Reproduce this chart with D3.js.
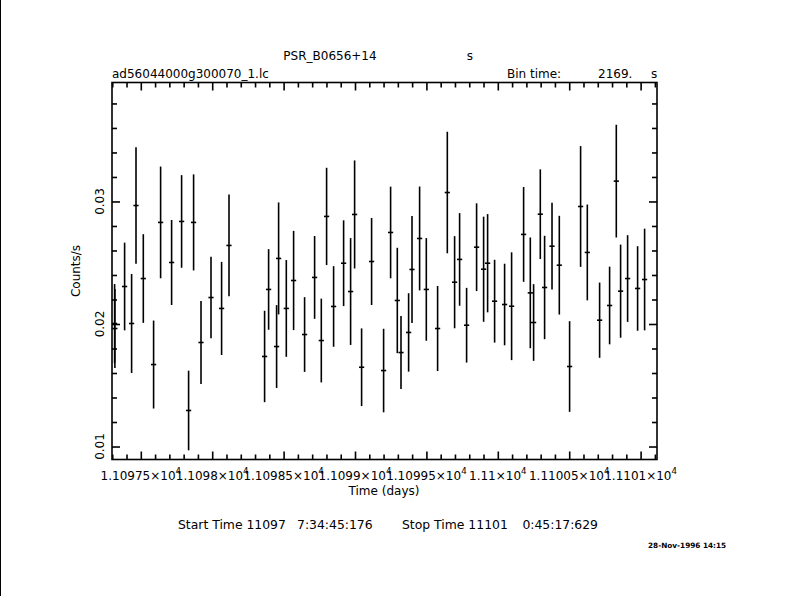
<!DOCTYPE html>
<html>
<head>
<meta charset="utf-8">
<script src="https://cdn.jsdelivr.net/npm/d3@7"></script>
<style>
  html, body { margin: 0; padding: 0; background: #fff; }
  svg { display: block; }
  text { font-family: "DejaVu Sans", Arial, sans-serif; fill: #000; }
</style>
</head>
<body>
<div id="chart"></div>
<script>
// ---- data ----
const binTime = 2169; // seconds
const time = [
  11097.3165, 11097.3185, 11097.3866, 11097.4356, 11097.4664, 11097.5175, 11097.5896, 11097.6387,
  11097.7157, 11097.7857, 11097.8347, 11097.8697, 11097.9216, 11097.9916, 11098.0658, 11098.1176,
  11098.3669, 11098.3950, 11098.4510, 11098.4650, 11098.5189, 11098.5700, 11098.6470, 11098.7171,
  11098.7640, 11098.8011, 11098.8501, 11098.9202, 11098.9692, 11098.9972, 11099.0462, 11099.1162,
  11099.2003, 11099.2493, 11099.2962, 11099.3221, 11099.3754, 11099.3992, 11099.4524, 11099.4993,
  11099.5784, 11099.6464, 11099.6975, 11099.7325, 11099.7815, 11099.8515, 11099.9006, 11099.9286,
  11099.9776, 11100.0476, 11100.0966, 11100.1807, 11100.2276, 11100.2507, 11100.2976, 11100.3277,
  11100.3796, 11100.4307, 11100.5028, 11100.5798, 11100.6268, 11100.7129, 11100.7829, 11100.8298,
  11100.8599, 11100.9090, 11100.9790, 11101.0280
];
const rate = [
  0.02004, 0.01963, 0.02306, 0.02004, 0.02967, 0.02371, 0.01669, 0.02829,
  0.02502, 0.02837, 0.01294, 0.02829, 0.01849, 0.02216, 0.02127, 0.02641,
  0.01735, 0.02282, 0.01816, 0.02535, 0.02127, 0.02355, 0.01914, 0.02380,
  0.01865, 0.02878, 0.02143, 0.02496, 0.02265, 0.02894, 0.01647, 0.02510,
  0.01620, 0.02747, 0.02192, 0.01767, 0.01931, 0.02445, 0.02698, 0.02282,
  0.01963, 0.03073, 0.02341, 0.02527, 0.01990, 0.02627, 0.02447, 0.02496,
  0.02186, 0.02159, 0.02145, 0.02731, 0.02254, 0.02012, 0.02896, 0.02298,
  0.02635, 0.02480, 0.01653, 0.02959, 0.02584, 0.02031, 0.02151, 0.03166,
  0.02268, 0.02371, 0.02290, 0.02363
];
const rateErr = [
  0.00322, 0.00322, 0.00358, 0.00404, 0.00476, 0.00362, 0.00359, 0.00456,
  0.00347, 0.00378, 0.00325, 0.00392, 0.00339, 0.00333, 0.00380, 0.00415,
  0.00373, 0.00329, 0.00338, 0.00457, 0.00395, 0.00405, 0.00305, 0.00338,
  0.00342, 0.00397, 0.00329, 0.00350, 0.00436, 0.00441, 0.00317, 0.00355,
  0.00341, 0.00374, 0.00430, 0.00298, 0.00320, 0.00436, 0.00424, 0.00419,
  0.00347, 0.00496, 0.00376, 0.00378, 0.00305, 0.00358, 0.00429, 0.00401,
  0.00338, 0.00333, 0.00440, 0.00387, 0.00452, 0.00313, 0.00366, 0.00422,
  0.00354, 0.00403, 0.00370, 0.00493, 0.00391, 0.00307, 0.00317, 0.00460,
  0.00380, 0.00354, 0.00345, 0.00415
];
const xMajorTicks = [11097.5, 11098, 11098.5, 11099, 11099.5, 11100, 11100.5, 11101];
const yMajorTicks = [0.01, 0.02, 0.03];
const yTickLabels = ["0.01", "0.02", "0.03"];
const titleText = "PSR_B0656+14";
const fileText = "ad56044000g300070_1.lc";
const startText = "Start Time 11097";
const startClock = "7:34:45:176";
const stopText = "Stop Time 11101";
const stopClock = "0:45:17:629";
const dateText = "28-Nov-1996 14:15";

// ---- layout ----
const W = 790, H = 596;
const L = 112, R = 657, T = 82.5, B = 459.5;

const svg = d3.select("#chart").append("svg")
  .attr("width", W).attr("height", H)
  .attr("viewBox", `0 0 ${W} ${H}`);
svg.append("rect").attr("width", W).attr("height", H).attr("fill", "#fff");
// left edge line of the page
svg.append("line").attr("x1", 0.5).attr("x2", 0.5).attr("y1", 0).attr("y2", H)
  .attr("stroke", "#000").attr("stroke-width", 1);

const x = d3.scaleLinear().domain([11097.2983, 11101.1148]).range([L, R]);
const y = d3.scaleLinear().domain([0.00894, 0.03971]).range([B, T]);

const xMinor = d3.range(11097.3, 11101.11, 0.1).map(v => +v.toFixed(4))
  .filter(v => !xMajorTicks.some(m => Math.abs(m - v) < 1e-6));
const yMinor = d3.range(0.010, 0.0397, 0.002).map(v => +v.toFixed(4))
  .filter(v => !yMajorTicks.some(m => Math.abs(m - v) < 1e-9));

const majLen = 8, minLen = 5, axW = 1.6;
function axisStyle(g) {
  g.select(".domain").remove();
  g.selectAll("line").attr("stroke", "#000").attr("stroke-width", axW);
  g.selectAll("text").remove();
}
// bottom
svg.append("g").attr("transform", `translate(0,${B})`)
  .call(d3.axisBottom(x).tickValues(xMajorTicks).tickSize(-majLen)).call(axisStyle);
svg.append("g").attr("transform", `translate(0,${B})`)
  .call(d3.axisBottom(x).tickValues(xMinor).tickSize(-minLen)).call(axisStyle);
// top
svg.append("g").attr("transform", `translate(0,${T})`)
  .call(d3.axisTop(x).tickValues(xMajorTicks).tickSize(-majLen)).call(axisStyle);
svg.append("g").attr("transform", `translate(0,${T})`)
  .call(d3.axisTop(x).tickValues(xMinor).tickSize(-minLen)).call(axisStyle);
// left
svg.append("g").attr("transform", `translate(${L},0)`)
  .call(d3.axisLeft(y).tickValues(yMajorTicks).tickSize(-majLen)).call(axisStyle);
svg.append("g").attr("transform", `translate(${L},0)`)
  .call(d3.axisLeft(y).tickValues(yMinor).tickSize(-minLen)).call(axisStyle);
// right
svg.append("g").attr("transform", `translate(${R},0)`)
  .call(d3.axisRight(y).tickValues(yMajorTicks).tickSize(-majLen)).call(axisStyle);
svg.append("g").attr("transform", `translate(${R},0)`)
  .call(d3.axisRight(y).tickValues(yMinor).tickSize(-minLen)).call(axisStyle);

// frame
svg.append("rect").attr("x", L).attr("y", T).attr("width", R - L).attr("height", B - T)
  .attr("fill", "none").attr("stroke", "#000").attr("stroke-width", axW);

// x tick labels
const fs = 12;
xMajorTicks.forEach(v => {
  const t = svg.append("text").attr("x", x(v)).attr("y", B + 20)
    .attr("text-anchor", "middle").attr("font-size", fs);
  t.append("tspan").text(String(+(v / 1e4).toFixed(6)) + "×10");
  t.append("tspan").attr("dy", -6).attr("font-size", fs * 0.72).text("4");
});
// y tick labels (rotated)
yMajorTicks.forEach((v, i) => {
  svg.append("text").attr("transform", `translate(104,${y(v)}) rotate(-90)`)
    .attr("text-anchor", "middle").attr("font-size", fs).text(yTickLabels[i]);
});

// axis titles
svg.append("text").attr("x", 384).attr("y", 495).attr("text-anchor", "middle")
  .attr("font-size", fs).text("Time (days)");
svg.append("text").attr("transform", `translate(80,${(T + B) / 2}) rotate(-90)`)
  .attr("text-anchor", "middle").attr("font-size", fs).text("Counts/s");

// header texts
svg.append("text").attr("x", 330).attr("y", 60).attr("text-anchor", "middle")
  .attr("font-size", fs).text(titleText);
svg.append("text").attr("x", 470).attr("y", 60).attr("text-anchor", "middle")
  .attr("font-size", fs).text("s");
svg.append("text").attr("x", 112).attr("y", 78).attr("font-size", fs).text(fileText);
svg.append("text").attr("x", 507).attr("y", 78).attr("font-size", fs).text("Bin time:");
svg.append("text").attr("x", 598).attr("y", 78).attr("font-size", fs).text(binTime + ".");
svg.append("text").attr("x", 651).attr("y", 78).attr("font-size", fs).text("s");

// footer
const ffs = 12.4;
svg.append("text").attr("x", 178).attr("y", 529).attr("font-size", ffs).text(startText);
svg.append("text").attr("x", 297).attr("y", 529).attr("font-size", ffs).text(startClock);
svg.append("text").attr("x", 402).attr("y", 529).attr("font-size", ffs).text(stopText);
svg.append("text").attr("x", 598).attr("y", 529).attr("text-anchor", "end").attr("font-size", ffs).text(stopClock);
svg.append("text").attr("x", 648).attr("y", 548).attr("font-size", 7.3).attr("font-weight", "bold")
  .text(dateText);

// data: error bars
const halfBin = binTime / 86400 / 2;
const pts = time.map((t, i) => ({ t, r: rate[i], e: rateErr[i] }));
const g = svg.append("g").attr("stroke", "#000").attr("stroke-width", 1.6);
g.selectAll("line.v").data(pts).join("line").attr("class", "v")
  .attr("x1", d => x(d.t)).attr("x2", d => x(d.t))
  .attr("y1", d => y(d.r - d.e)).attr("y2", d => y(d.r + d.e));
g.selectAll("line.h").data(pts).join("line").attr("class", "h")
  .attr("stroke-linecap", "square")
  .attr("x1", d => x(d.t - halfBin)).attr("x2", d => x(d.t + halfBin))
  .attr("y1", d => y(d.r)).attr("y2", d => y(d.r));
</script>
</body>
</html>
